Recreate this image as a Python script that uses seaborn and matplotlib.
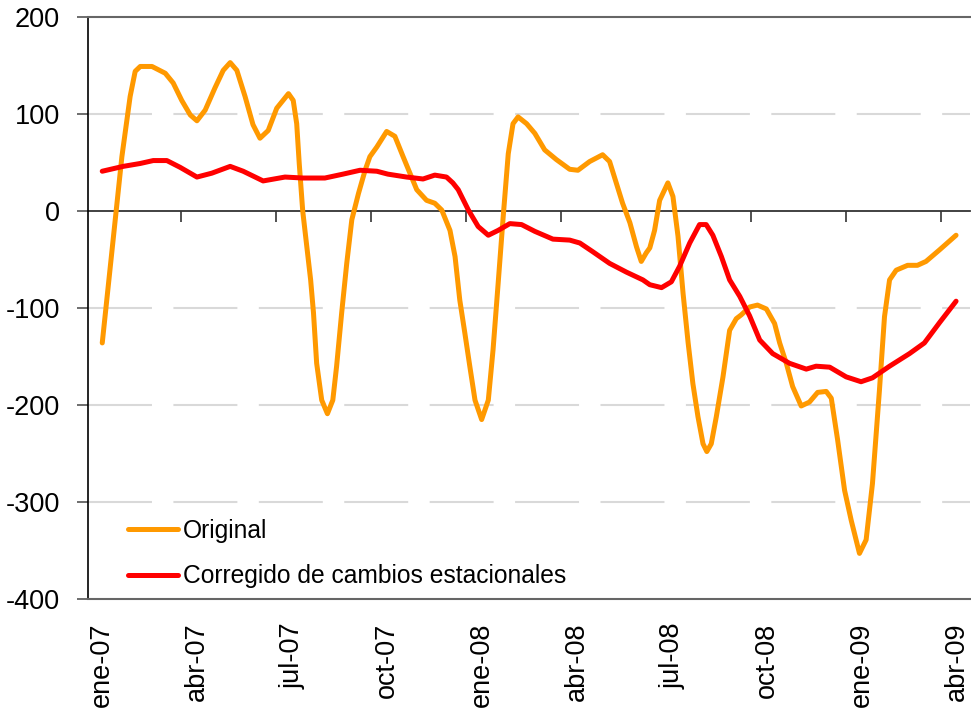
import numpy as np
import pandas as pd
import matplotlib
matplotlib.use('Agg')
import matplotlib.pyplot as plt
import seaborn as sns

# etiquetas del eje x (posicion en meses desde ene-07)
meses = ['ene-07', 'abr-07', 'jul-07', 'oct-07', 'ene-08',
         'abr-08', 'jul-08', 'oct-08', 'ene-09', 'abr-09']
pos_meses = [0, 3, 6, 9, 12, 15, 18, 21, 24, 27]

# serie original
x_original = [0.00, 0.31, 0.62, 0.88, 1.04, 1.20, 1.57, 1.99, 2.24, 2.51,
              2.78, 2.99, 3.25, 3.56, 3.82, 4.04, 4.25, 4.51, 4.76, 4.98,
              5.24, 5.51, 5.88, 6.03, 6.14, 6.22, 6.33, 6.46, 6.58, 6.67,
              6.77, 6.93, 7.11, 7.28, 7.40, 7.56, 7.72, 7.88, 8.09, 8.30,
              8.45, 8.67, 8.98, 9.24, 9.50, 9.93, 10.24, 10.50, 10.72, 10.98,
              11.14, 11.29, 11.45, 11.61, 11.77, 11.98, 12.19, 12.34, 12.50, 12.66,
              12.82, 12.97, 13.13, 13.40, 13.66, 13.97, 14.34, 14.76, 15.02, 15.39,
              15.80, 16.02, 16.23, 16.43, 16.66, 16.87, 17.02, 17.18, 17.29, 17.44,
              17.60, 17.86, 18.02, 18.18, 18.34, 18.50, 18.65, 18.81, 18.97, 19.09,
              19.23, 19.39, 19.60, 19.81, 20.02, 20.18, 20.44, 20.69, 20.97, 21.23,
              21.39, 21.60, 21.80, 22.07, 22.33, 22.59, 22.86, 23.02, 23.22, 23.44,
              23.65, 23.91, 24.12, 24.32, 24.54, 24.70, 24.86, 25.07, 25.43, 25.74,
              26.01, 26.44, 26.96]
y_original = [-136, -40, 56, 118, 144, 149, 149, 142, 132, 114,
              99, 93, 104, 127, 145, 153, 145, 118, 89, 75,
              83, 106, 121, 114, 90, 49, 0, -37, -71, -105,
              -157, -195, -209, -195, -160, -105, -54, -9, 18, 42,
              56, 66, 82, 77, 56, 22, 11, 8, 1, -20,
              -47, -92, -126, -161, -195, -215, -195, -143, -75, -6,
              59, 90, 97, 90, 80, 63, 53, 43, 42, 51,
              58, 51, 29, 8, -12, -37, -52, -43, -38, -20,
              11, 29, 15, -26, -85, -136, -178, -212, -240, -248,
              -240, -212, -171, -123, -111, -107, -99, -97, -101, -116,
              -136, -157, -181, -201, -197, -187, -186, -193, -236, -288,
              -319, -353, -339, -281, -185, -109, -71, -61, -56, -56,
              -52, -40, -25]

# serie corregida de cambios estacionales
x_corregido = [0.00, 0.66, 1.20, 1.61, 2.04, 2.46, 2.99, 3.46, 4.04, 4.45,
               5.08, 5.77, 6.34, 7.03, 7.60, 8.14, 8.67, 9.02, 9.61, 10.13,
               10.50, 10.87, 11.07, 11.24, 11.56, 11.87, 12.19, 12.50, 12.87, 13.24,
               13.66, 14.23, 14.76, 15.08, 15.49, 16.02, 16.55, 17.07, 17.29, 17.66,
               17.97, 18.23, 18.55, 18.86, 19.07, 19.28, 19.55, 19.81, 20.13, 20.44,
               20.76, 21.17, 21.70, 22.23, 22.54, 22.97, 23.49, 23.96, 24.32, 24.86,
               25.49, 25.96, 26.44, 26.96]
y_corregido = [41, 46, 49, 52, 52, 45, 35, 39, 46, 41,
               31, 35, 34, 34, 38, 42, 41, 38, 35, 33,
               37, 35, 29, 22, 1, -16, -25, -20, -13, -14,
               -21, -29, -30, -33, -42, -54, -63, -71, -76, -79,
               -73, -57, -33, -14, -14, -25, -47, -71, -88, -108,
               -133, -147, -157, -163, -160, -161, -171, -176, -172, -160,
               -147, -136, -115, -93]

nombres = ['Original', 'Corregido de cambios estacionales']
colores = {'Original': '#FF9900', 'Corregido de cambios estacionales': '#FF0000'}

df = pd.concat([
    pd.DataFrame({'mes': x_original, 'valor': y_original, 'serie': nombres[0]}),
    pd.DataFrame({'mes': x_corregido, 'valor': y_corregido, 'serie': nombres[1]}),
], ignore_index=True)

sns.set_style('white')
plt.rcParams['font.family'] = ['Liberation Sans', 'DejaVu Sans']
plt.rcParams['axes.unicode_minus'] = False
plt.rcParams['text.color'] = 'black'

fig = plt.figure(figsize=(9.71, 7.15), dpi=100)
ax = fig.add_axes([88 / 971, 1 - 599 / 715, 882 / 971, 582 / 715])

# lineas de rejilla discontinuas (no en el cero ni en los bordes)
for v in [100, -100, -200, -300]:
    ax.axhline(v, color='#D9D9D9', linewidth=1.5, linestyle=(0, (30.7, 10.3)), zorder=0)

sns.lineplot(data=df, x='mes', y='valor', hue='serie', hue_order=nombres,
             palette=colores, linewidth=3.6, estimator=None, sort=False, ax=ax)
for ln in ax.get_lines():
    ln.set_solid_joinstyle('round')
    ln.set_solid_capstyle('round')

ax.set_xlim(-0.45, 27.4)
ax.set_ylim(-400, 200)
ax.set_yticks(np.arange(-400, 201, 100))
ax.set_xticks(pos_meses)
ax.set_xticklabels(meses, rotation=90)
ax.set_xlabel('')
ax.set_ylabel('')

ax.tick_params(axis='y', labelsize=19.5, length=8, width=1.2, color='#555555',
               labelcolor='black', direction='out', pad=12, left=True)
ax.tick_params(axis='x', labelsize=19.5, length=0, pad=17, labelcolor='black')
ax.grid(False)

ax.spines['right'].set_visible(False)
ax.spines['left'].set_color('black')
ax.spines['left'].set_linewidth(1.2)
ax.spines['top'].set_color('#666666')
ax.spines['top'].set_linewidth(1.5)
ax.spines['bottom'].set_color('#666666')
ax.spines['bottom'].set_linewidth(1.5)

# eje de categorias en el cero con marcas hacia abajo
eje0 = ax.secondary_xaxis(400 / 600)
eje0.set_alignment('bottom')
eje0.set_xticks([])
eje0.set_xticks([p + 2.5 for p in pos_meses[:-1]], minor=True)
eje0.tick_params(axis='x', which='minor', direction='out', length=8, width=1.2,
                 color='#333333', labelbottom=False, labeltop=False)
eje0.spines['bottom'].set_color('#333333')
eje0.spines['bottom'].set_linewidth(1.3)

handles, labels = ax.get_legend_handles_labels()
leg = ax.legend(handles, labels, loc='upper left', bbox_to_anchor=(0.045, 0.138),
                frameon=False, fontsize=17.7, handlelength=2.03, handletextpad=0.2,
                labelspacing=0.88, borderaxespad=0, borderpad=0)
for t in leg.get_texts():
    t.set_color('black')

plt.savefig('out.png', dpi=100)
